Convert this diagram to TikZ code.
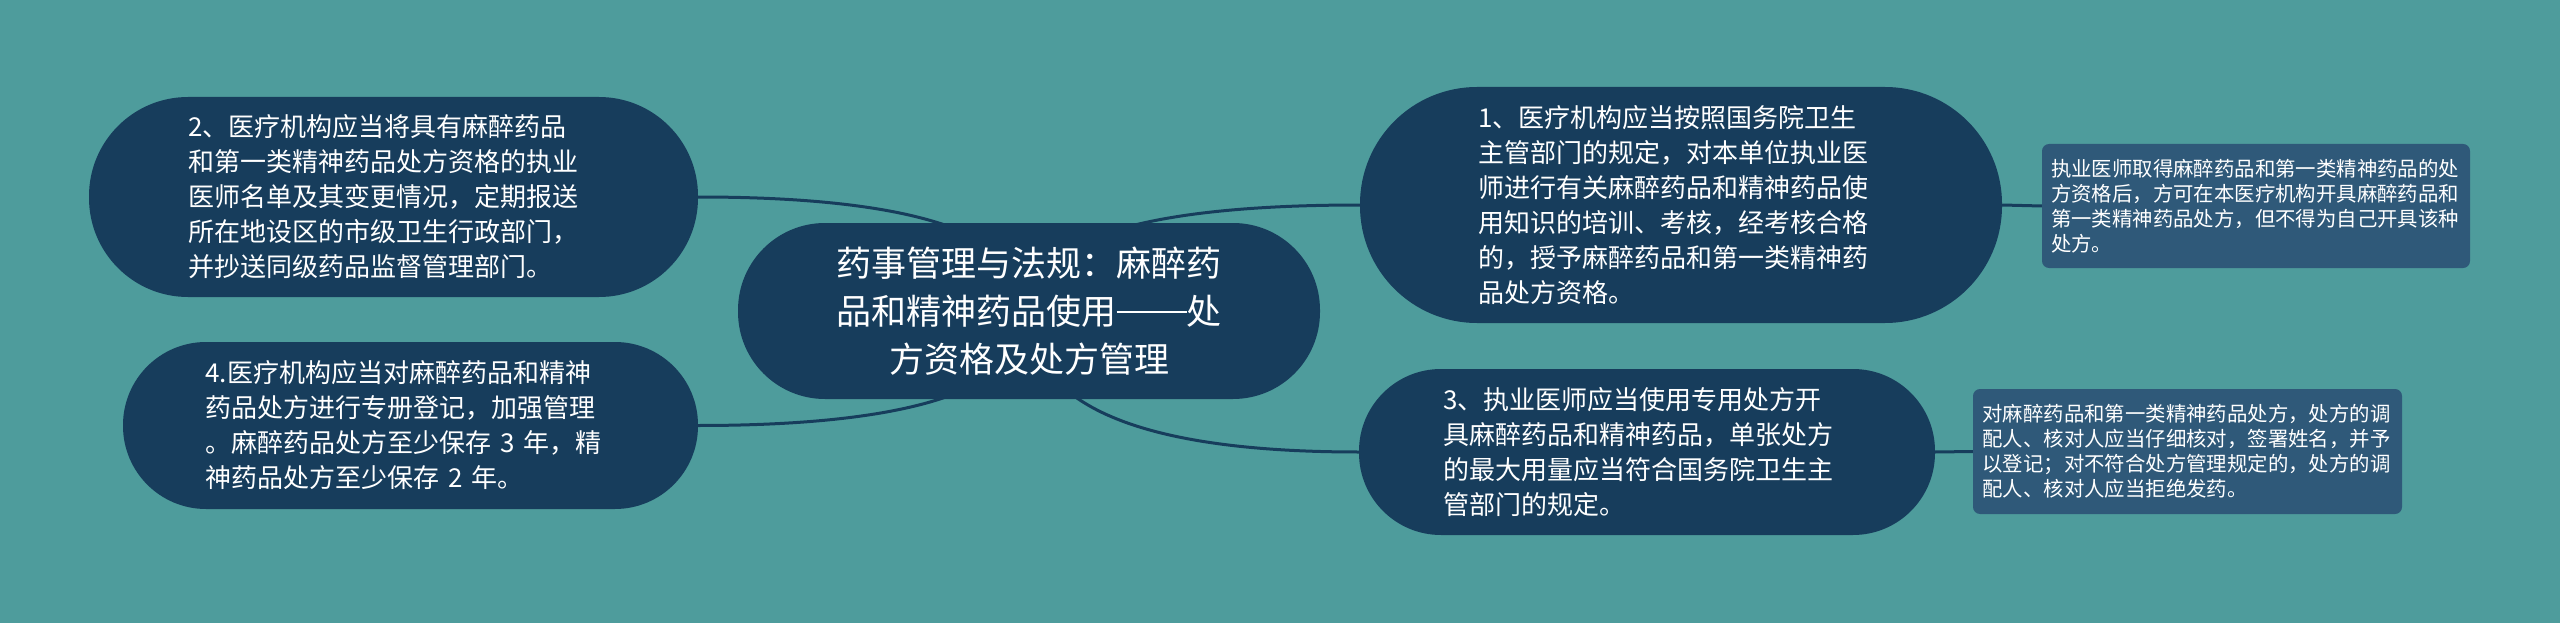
\documentclass[tikz,border=0pt]{standalone}
\usepackage{fontspec}
\setmainfont{Noto Sans CJK SC}
\usetikzlibrary{calc}

\definecolor{bgteal}{HTML}{4E9C9C}
\definecolor{topicblue}{HTML}{173D5C}
\definecolor{noteblue}{HTML}{2F5979}

\pgfdeclarelayer{bg}
\pgfdeclarelayer{edges}
\pgfsetlayers{bg,edges,main}

% full width double dash
\newcommand{\zhdash}{\rule[0.32em]{2em}{0.07em}}

\tikzset{
  topic/.style={fill=topicblue, text=white, inner sep=0pt, align=left,
    font=\fontsize{26}{35}\selectfont},
  note/.style={fill=noteblue, text=white, inner sep=0pt, align=left,
    rounded corners=7pt, font=\fontsize{20.4}{25}\selectfont},
  branch/.style={draw=topicblue, line width=3pt},
}

\begin{document}
\begin{tikzpicture}[x=1pt,y=-1pt]
    \begin{pgfonlayer}{bg}
        \fill[bgteal] (0,0) rectangle (2560,623);
    \end{pgfonlayer}
    \useasboundingbox (0,0) rectangle (2560,623);

    % central topic
    \node[topic, minimum width=582pt, minimum height=176pt, rounded corners=87pt,
          text width=400pt, align=center, font=\fontsize{35}{48}\selectfont]
        (ctr) at (1029,311)
        {药事管理与法规：麻醉药\\品和精神药品使用\zhdash 处\\方资格及处方管理};

    % left branches
    \node[topic, minimum width=609pt, minimum height=200pt, rounded corners=99pt,
          text width=410pt] (n2) at (393.5,197)
        {2、医疗机构应当将具有麻醉药品\\和第一类精神药品处方资格的执业\\医师名单及其变更情况，定期报送\\所在地设区的市级卫生行政部门，\\并抄送同级药品监督管理部门。};
    \node[topic, minimum width=575pt, minimum height=167pt, rounded corners=83pt,
          text width=410pt] (n4) at (410.5,425.5)
        {4.医疗机构应当对麻醉药品和精神\\药品处方进行专册登记，加强管理\\。麻醉药品处方至少保存 3 年，精\\神药品处方至少保存 2 年。};

    % right branches
    \node[topic, minimum width=642pt, minimum height=236pt, rounded corners=117pt,
          text width=406pt] (n1) at (1681,205)
        {1、医疗机构应当按照国务院卫生\\主管部门的规定，对本单位执业医\\师进行有关麻醉药品和精神药品使\\用知识的培训、考核，经考核合格\\的，授予麻醉药品和第一类精神药\\品处方资格。};
    \node[topic, minimum width=576pt, minimum height=166pt, rounded corners=82pt,
          text width=408pt] (n3) at (1647,452)
        {3、执业医师应当使用专用处方开\\具麻醉药品和精神药品，单张处方\\的最大用量应当符合国务院卫生主\\管部门的规定。};

    % notes
    \node[note, minimum width=428pt, minimum height=124pt, text width=410pt]
        (nt1) at (2256,206)
        {执业医师取得麻醉药品和第一类精神药品的处\\方资格后，方可在本医疗机构开具麻醉药品和\\第一类精神药品处方，但不得为自己开具该种\\处方。};
    \node[note, minimum width=429pt, minimum height=125pt, text width=410pt]
        (nt3) at (2187.5,451.5)
        {对麻醉药品和第一类精神药品处方，处方的调\\配人、核对人应当仔细核对，签署姓名，并予\\以登记；对不符合处方管理规定的，处方的调\\配人、核对人应当拒绝发药。};

    \begin{pgfonlayer}{edges}
        \foreach \k/\a in {n1/west, n3/west, n2/east, n4/east}
            \draw[branch] (ctr.center)
                .. controls ($(ctr.center)!2/3!(ctr.center |- \k.\a)$)
                and ($(\k.\a)!2/3!(ctr.center |- \k.\a)$) .. (\k.\a);
        \draw[branch] (n1.east) -- (nt1.west);
        \draw[branch] (n3.east) -- (nt3.west);
    \end{pgfonlayer}
\end{tikzpicture}
\end{document}
